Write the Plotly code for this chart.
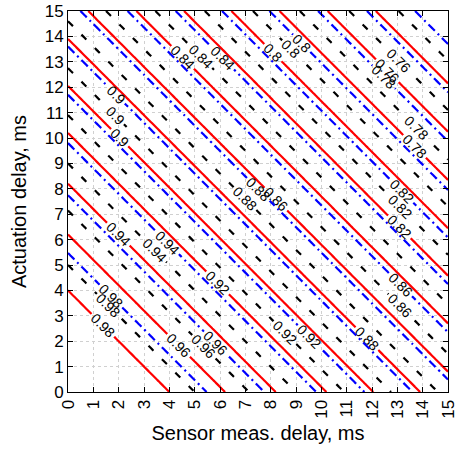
import numpy as np
import plotly.graph_objects as go

# Contour levels shared by the three families
levels = [0.98, 0.96, 0.94, 0.92, 0.90, 0.88, 0.86, 0.84, 0.82, 0.80, 0.78, 0.76, 0.74]

# Value of (sensor delay + actuation delay) in ms where each level's contour sits
red_sums = [4.0, 6.2, 8.2, 10.2, 12.05, 13.9, 15.8, 17.7, 19.58, 21.45, 23.35, 25.25, 27.15]
blue_sums = [5.47, 7.75, 9.8, 11.7, 13.6, 15.49, 17.35, 19.25, 21.08, 22.95, 24.87, 26.8, 28.7]
black_sums = [5.0, 7.15, 9.0, 10.9, 12.75, 14.6, 16.5, 18.45, 20.4, 22.3, 24.15, 26.1, 28.05]

x_ticks = list(range(0, 16))
y_ticks = list(range(0, 16))

grid = np.linspace(0, 15, 151)
X, Y = np.meshgrid(grid, grid)
S = X + Y


def field(sums):
    s = np.asarray(sums, float)
    v = np.asarray(levels, float)
    # linear interpolation with linear extension beyond the read range
    lo_slope = (v[1] - v[0]) / (s[1] - s[0])
    hi_slope = (v[-1] - v[-2]) / (s[-1] - s[-2])
    s_ext = np.concatenate([[-1.0], s, [31.0]])
    v_ext = np.concatenate([[v[0] + lo_slope * (-1.0 - s[0])], v, [v[-1] + hi_slope * (31.0 - s[-1])]])
    return np.interp(S, s_ext, v_ext)


def contour(sums, color, dash):
    return go.Contour(
        x=grid, y=grid, z=field(sums),
        autocontour=False,
        contours=dict(start=min(levels) - 1e-6, end=max(levels) + 1e-6, size=0.02,
                      coloring="none", showlabels=True,
                      labelfont=dict(size=14, color="black", family="Liberation Sans, Arial, sans-serif")),
        line=dict(color=color, width=2.2, dash=dash),
        showscale=False, hoverinfo="skip",
    )


fig = go.Figure()
fig.add_trace(contour(red_sums, "#ff0000", "solid"))
fig.add_trace(contour(blue_sums, "#0000ff", "9px,4px,2px,4px"))
fig.add_trace(contour(black_sums, "#000000", "7px,12px"))

axis_common = dict(
    range=[0, 15], tickvals=x_ticks, ticks="inside", ticklen=5, tickcolor="black",
    showline=True, linecolor="black", linewidth=1, mirror="ticks",
    showgrid=True, gridcolor="#d0d0d0", griddash="dot", gridwidth=1,
    zeroline=False, automargin=False, ticklabeloverflow="allow",
    tickfont=dict(size=17, color="black", family="Liberation Sans, Arial, sans-serif"),
)

fig.update_layout(
    width=457, height=455,
    margin=dict(l=68, r=9, t=11, b=63),
    paper_bgcolor="white", plot_bgcolor="white",
    showlegend=False,
    font=dict(family="Liberation Sans, Arial, sans-serif", color="black"),
    xaxis=dict(axis_common, tickangle=-90,
               title=dict(text="Sensor meas. delay, ms", font=dict(size=20), standoff=8)),
    yaxis=dict(axis_common, tickvals=y_ticks,
               title=dict(text="Actuation delay, ms", font=dict(size=20), standoff=12)),
)

fig.write_html("out.html", config={"displayModeBar": False},
               post_script="document.body.style.margin='0';")
